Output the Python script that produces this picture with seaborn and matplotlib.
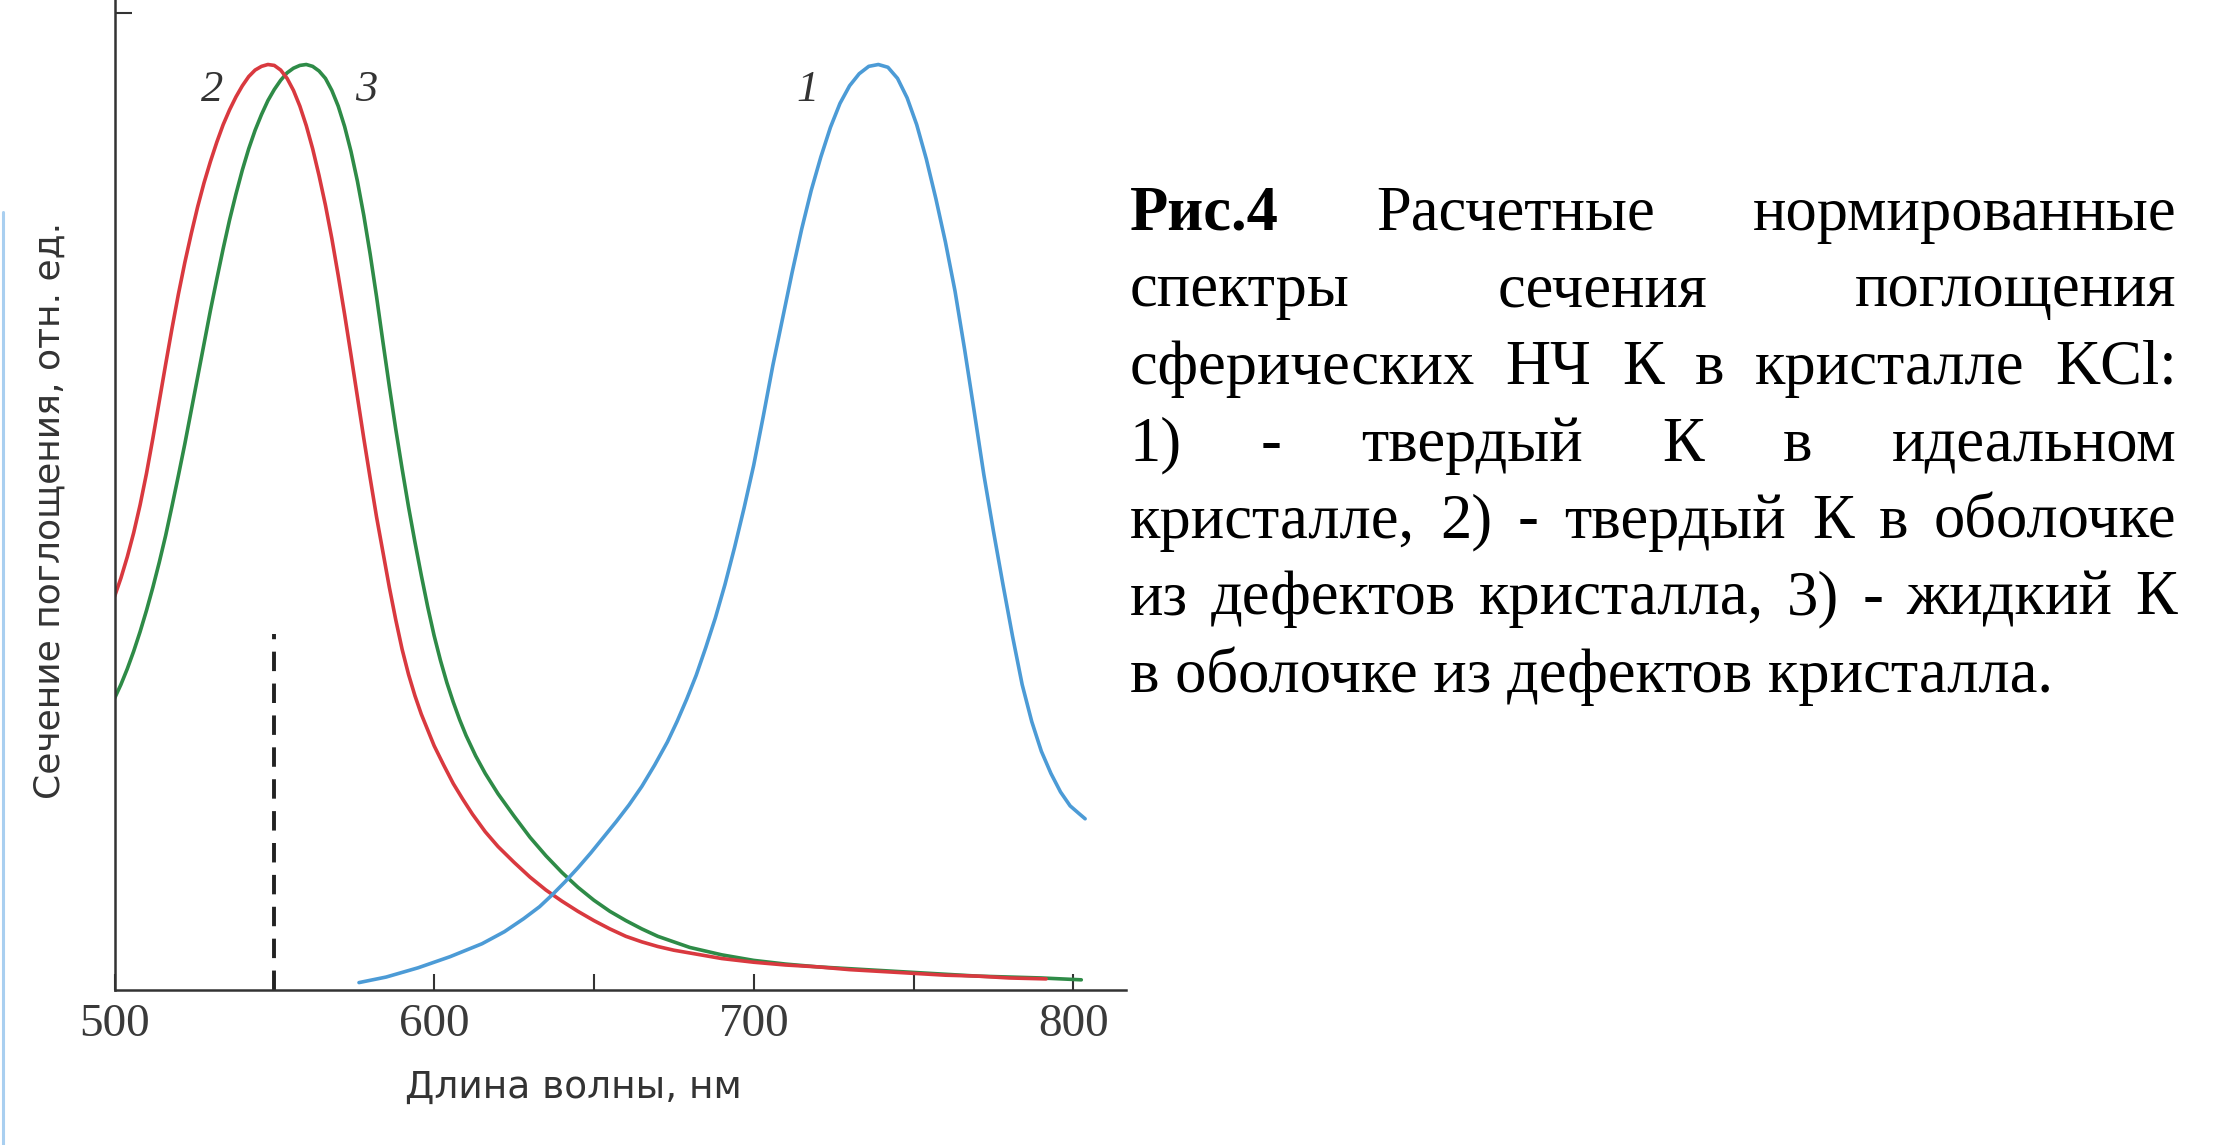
import numpy as np
import pandas as pd
import matplotlib
matplotlib.use("Agg")
import matplotlib.pyplot as plt
import seaborn as sns
from matplotlib.lines import Line2D

# ---------------- data ----------------
wl_1 = [576.5, 585, 595, 605, 615, 622, 628, 633, 637, 641, 645, 649, 653, 657,
        661, 665, 669, 673, 676, 679, 682, 685, 688, 691, 694, 697, 700, 703,
        706, 709, 712, 715, 718, 721, 724, 727, 730, 733, 736, 739, 742, 745,
        748, 751, 754, 757, 760, 763, 766, 769, 772, 775, 778, 781, 784, 787,
        790, 793, 796, 799, 802, 803.7]
val_1 = [0.008, 0.014, 0.024, 0.036, 0.050, 0.063, 0.077, 0.090, 0.103, 0.117,
         0.132, 0.148, 0.165, 0.182, 0.200, 0.220, 0.243, 0.268, 0.290, 0.314,
         0.340, 0.370, 0.402, 0.438, 0.478, 0.521, 0.567, 0.620, 0.675, 0.725,
         0.775, 0.822, 0.864, 0.900, 0.932, 0.958, 0.977, 0.990, 0.998, 1.000,
         0.997, 0.985, 0.964, 0.935, 0.898, 0.855, 0.808, 0.755, 0.692, 0.625,
         0.557, 0.496, 0.438, 0.382, 0.330, 0.290, 0.258, 0.234, 0.214, 0.199,
         0.190, 0.185]

wl_2 = [500, 502, 504, 506, 508, 510, 512, 514, 516, 518, 520, 522, 524, 526,
        528, 530, 532, 534, 536, 538, 540, 542, 544, 546, 548, 550, 552, 554,
        556, 558, 560, 562, 564, 566, 568, 570, 572, 574, 576, 578, 580, 582,
        584, 586, 588, 590, 592, 594, 596, 598, 600, 603, 606, 609, 612, 616,
        620, 625, 630, 635, 640, 645, 650, 655, 660, 665, 670, 675, 680, 690,
        700, 710, 720, 730, 740, 750, 760, 770, 780, 791.5]
val_2 = [0.425, 0.445, 0.468, 0.494, 0.524, 0.558, 0.596, 0.636, 0.676, 0.715,
         0.752, 0.786, 0.817, 0.846, 0.872, 0.895, 0.916, 0.935, 0.951, 0.965,
         0.977, 0.987, 0.994, 0.998, 1.000, 0.999, 0.994, 0.985, 0.972, 0.955,
         0.934, 0.909, 0.880, 0.848, 0.812, 0.772, 0.730, 0.686, 0.641, 0.596,
         0.553, 0.511, 0.473, 0.435, 0.400, 0.368, 0.341, 0.318, 0.298, 0.281,
         0.264, 0.243, 0.223, 0.206, 0.190, 0.171, 0.155, 0.138, 0.122, 0.108,
         0.096, 0.085, 0.075, 0.066, 0.058, 0.052, 0.047, 0.043, 0.040, 0.034,
         0.030, 0.027, 0.025, 0.022, 0.020, 0.018, 0.016, 0.015, 0.013, 0.012]

wl_3 = [500, 502, 504, 506, 508, 510, 512, 514, 516, 518, 520, 522, 524, 526,
        528, 530, 532, 534, 536, 538, 540, 542, 544, 546, 548, 550, 552, 554,
        556, 558, 560, 562, 564, 566, 568, 570, 572, 574, 576, 578, 580, 582,
        584, 586, 588, 590, 592, 594, 596, 598, 600, 602, 604, 606, 608, 610,
        613, 616, 620, 625, 630, 635, 640, 645, 650, 655, 660, 665, 670, 675,
        680, 690, 700, 710, 720, 730, 740, 750, 760, 770, 780, 790, 802.5]
val_3 = [0.315, 0.330, 0.347, 0.366, 0.387, 0.410, 0.435, 0.462, 0.491, 0.523,
         0.556, 0.590, 0.626, 0.662, 0.698, 0.734, 0.768, 0.801, 0.832, 0.860,
         0.886, 0.909, 0.929, 0.946, 0.961, 0.973, 0.983, 0.991, 0.996, 0.999,
         1.000, 0.998, 0.993, 0.985, 0.972, 0.955, 0.933, 0.906, 0.874, 0.837,
         0.795, 0.749, 0.700, 0.652, 0.606, 0.563, 0.522, 0.484, 0.448, 0.414,
         0.383, 0.356, 0.332, 0.311, 0.292, 0.275, 0.253, 0.234, 0.212, 0.188,
         0.165, 0.145, 0.127, 0.111, 0.097, 0.085, 0.075, 0.066, 0.058, 0.052,
         0.046, 0.038, 0.032, 0.028, 0.025, 0.023, 0.021, 0.019, 0.017, 0.015,
         0.014, 0.013, 0.011]

curve_names = ["1", "2", "3"]
curve_colors = {"1": "#4c9bd6", "2": "#d9393f", "3": "#2e8b47"}
label_x = {"1": 716.9, "2": 530.4, "3": 578.6}
label_y = 0.972

dash_x = 550
dash_top = 0.385

x_major = [500, 600, 700, 800]
x_minor = [550, 650, 750]
y_tick = [1.056]

x_label = "Длина волны, нм"
y_label = "Сечение поглощения, отн. ед."

caption_lines = [
    "Рис.4 Расчетные нормированные",
    "спектры сечения поглощения",
    "сферических НЧ К в кристалле KCl:",
    "1) - твердый К в идеальном",
    "кристалле, 2) - твердый К в оболочке",
    "из дефектов кристалла, 3) - жидкий К",
    "в оболочке из дефектов кристалла.",
]
bold_words = {"Рис.4"}

# ---------------- figure ----------------
sns.set_theme(style="white")
plt.rcParams["font.family"] = ["Liberation Serif", "DejaVu Serif"]

W, H = 2222, 1145
fig = plt.figure(figsize=(W / 100, H / 100), dpi=100)
fig.patch.set_facecolor("white")

ax_left, ax_right, ax_bottom = 114.5, 1126.0, 990.0
ax = fig.add_axes([ax_left / W, (H - ax_bottom) / H,
                   (ax_right - ax_left) / W, ax_bottom / H])
ax.set_facecolor("white")

df = pd.concat([
    pd.DataFrame({"wl": wl_3, "val": val_3, "curve": "3"}),
    pd.DataFrame({"wl": wl_2, "val": val_2, "curve": "2"}),
    pd.DataFrame({"wl": wl_1, "val": val_1, "curve": "1"}),
], ignore_index=True)

sns.lineplot(data=df, x="wl", y="val", hue="curve", hue_order=["3", "2", "1"],
             palette=curve_colors, estimator=None, sort=False, linewidth=2.6,
             legend=False, ax=ax)
for ln in ax.get_lines():
    ln.set_solid_joinstyle("round")
    ln.set_solid_capstyle("round")

ax.plot([dash_x, dash_x], [0, dash_top], color="#222222", lw=2.8,
        dashes=(5, 3.2), solid_capstyle="butt")

ax.set_xlim(500, 500 + (ax_right - ax_left) / 3.196)
ax.set_ylim(0, ax_bottom / 925.5)

for s in ["top", "right"]:
    ax.spines[s].set_visible(False)
for s in ["left", "bottom"]:
    ax.spines[s].set_color("#333333")
    ax.spines[s].set_linewidth(1.8)

ax.set_xticks(x_major)
ax.set_xticks(x_minor, minor=True)
ax.set_xticklabels([str(v) for v in x_major])
ax.set_yticks(y_tick)
ax.set_yticklabels([])
ax.tick_params(axis="x", which="both", direction="in", length=11.5, width=1.5,
               color="#333333", labelsize=34, labelcolor="#3a3a3a", pad=10,
               bottom=True)
ax.tick_params(axis="y", which="both", direction="in", length=12, width=1.5,
               color="#333333", left=True)
ax.grid(False)

for lbl in ax.get_xticklabels():
    lbl.set_fontfamily(["Liberation Serif", "DejaVu Serif"])

ax.set_xlabel(x_label, fontsize=27, color="#333333", family=["DejaVu Sans"])
ax.set_ylabel(y_label, fontsize=26, color="#333333", family=["DejaVu Sans"])
ax.xaxis.set_label_coords((573 - ax_left) / (ax_right - ax_left), (ax_bottom - 1088) / ax_bottom)
ax.xaxis.label.set_va("center")
ax.yaxis.set_label_coords((50 - ax_left) / (ax_right - ax_left), (ax_bottom - 510) / ax_bottom)
ax.yaxis.label.set_va("center")

for name in curve_names:
    ax.text(label_x[name], label_y, name, fontsize=32, style="italic",
            color="#333333", ha="center", va="center",
            family=["Liberation Serif", "DejaVu Serif"])

# thin light-blue border line at the left edge
fig.add_artist(Line2D([2.5 / W, 2.5 / W], [0, (H - 212) / H],
                      transform=fig.transFigure, color="#a9cff0", lw=2.2))

# ---------------- justified caption ----------------
fig.canvas.draw()
renderer = fig.canvas.get_renderer()
cap_left, cap_right = 1129.5, 2176.6
cap_size = 45
base0, step = 229.5, 77.0

for i, line in enumerate(caption_lines):
    yb = 1 - (base0 + step * i) / H
    if i == len(caption_lines) - 1:
        fig.text(cap_left / W, yb, line, fontsize=cap_size, color="black",
                 ha="left", va="baseline", family=["Liberation Serif", "DejaVu Serif"])
        continue
    words = line.split()
    texts = []
    widths = []
    for w in words:
        t = fig.text(0, yb, w, fontsize=cap_size, color="black", ha="left",
                     va="baseline", family=["Liberation Serif", "DejaVu Serif"],
                     fontweight="bold" if w in bold_words else "normal")
        texts.append(t)
        widths.append(t.get_window_extent(renderer).width)
    gap = (cap_right - cap_left - sum(widths)) / (len(words) - 1)
    x = cap_left
    for t, wd in zip(texts, widths):
        t.set_x(x / W)
        x += wd + gap

fig.savefig("out.png", dpi=100, facecolor="white")
